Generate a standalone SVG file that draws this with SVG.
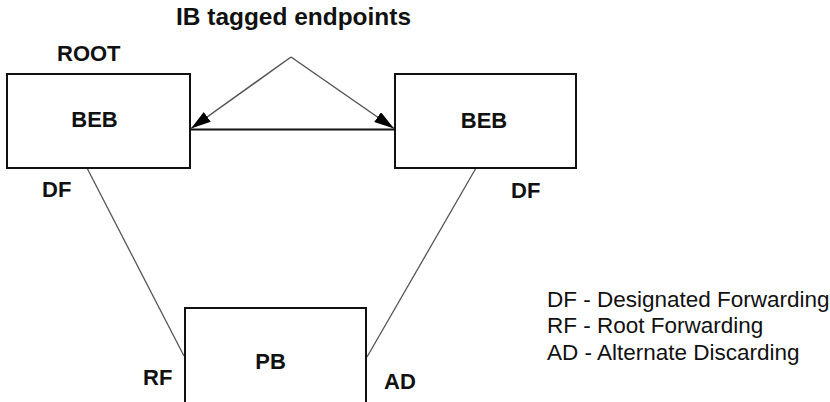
<svg xmlns="http://www.w3.org/2000/svg" width="830" height="402" viewBox="0 0 830 402">
<style>
.box{fill:#fff;stroke:#111;stroke-width:2}
.lbl{font-family:"Liberation Sans",Arial,sans-serif;font-weight:bold;font-size:22px;fill:#111}
.leg{font-family:"Liberation Sans",Arial,sans-serif;font-size:22.5px;fill:#111}
.link{stroke:#555;stroke-width:1.3;fill:none}
.ptr{stroke:#555;stroke-width:1.5;fill:none}
.bar{stroke:#111;stroke-width:2;fill:none}
</style>
<defs>
<marker id="ah" markerWidth="20" markerHeight="12" refX="20" refY="6" orient="auto" markerUnits="userSpaceOnUse">
<path d="M0,0 L20,6 L0,12 Z" fill="#000"/>
</marker>
</defs>
<rect width="830" height="402" fill="#fff"/>
<g id="connectors">
<line class="bar" x1="190" y1="129.5" x2="395" y2="129.5"/>
<line class="ptr" x1="291" y1="57" x2="191" y2="128.5" marker-end="url(#ah)"/>
<line class="ptr" x1="291" y1="57" x2="394" y2="128.5" marker-end="url(#ah)"/>
<line class="link" x1="87" y1="168" x2="184" y2="356"/>
<line class="link" x1="476" y1="168" x2="367" y2="357"/>
</g>
<g id="beb-root">
<rect class="box" x="7" y="74" width="183" height="94"/>
<text class="lbl" x="94.5" y="127" text-anchor="middle">BEB</text>
<text class="lbl" x="57" y="61">ROOT</text>
<text class="lbl" x="42" y="197">DF</text>
</g>
<g id="beb-right">
<rect class="box" x="395" y="74" width="181" height="94"/>
<text class="lbl" x="484" y="128" text-anchor="middle">BEB</text>
<text class="lbl" x="511" y="198">DF</text>
</g>
<g id="pb">
<rect class="box" x="185" y="308" width="181" height="110"/>
<text class="lbl" x="270.5" y="369" text-anchor="middle">PB</text>
<text class="lbl" x="143" y="385">RF</text>
<text class="lbl" x="384" y="389">AD</text>
</g>
<g id="title">
<text class="lbl" x="176" y="25" style="font-size:24px" textLength="235" lengthAdjust="spacingAndGlyphs">IB tagged endpoints</text>
</g>
<g id="legend">
<text class="leg" x="547" y="307">DF - Designated Forwarding</text>
<text class="leg" x="547" y="333">RF - Root Forwarding</text>
<text class="leg" x="547" y="360">AD - Alternate Discarding</text>
</g>
</svg>
